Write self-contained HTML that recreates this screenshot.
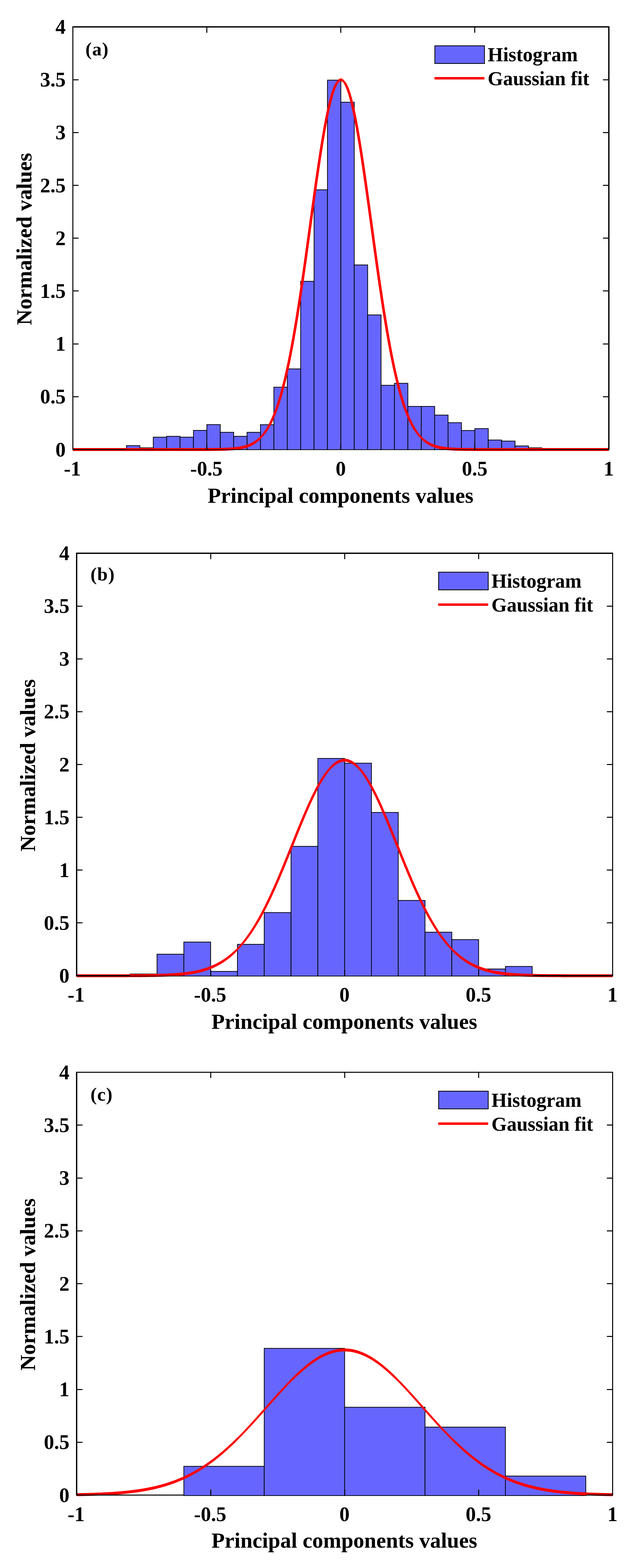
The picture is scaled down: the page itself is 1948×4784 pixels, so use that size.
<!DOCTYPE html>
<html lang="en">
<head>
<meta charset="utf-8">
<title>Histograms of principal components values with Gaussian fit</title>
<style>
html,body{margin:0;padding:0;background:#fff;}
body{width:1948px;height:4784px;overflow:hidden;}
svg{display:block;font-family:'Liberation Serif','Times New Roman',serif;font-weight:bold;fill:#000;}
</style>
</head>
<body>
<svg width="1948" height="4784" viewBox="0 0 1948 4784">
<rect width="1948" height="4784" fill="#fff" stroke="none"/>
<g class="panel" id="panel-a">
<g fill="#6666ff" stroke="#000" stroke-width="2.2" stroke-linejoin="miter">
<rect x="386.15" y="1359.57" width="40.91" height="12.43"/>
<rect x="427.06" y="1366.34" width="40.91" height="5.66"/>
<rect x="467.97" y="1333.78" width="40.91" height="38.22"/>
<rect x="508.89" y="1331.2" width="40.91" height="40.8"/>
<rect x="549.8" y="1333.78" width="40.91" height="38.22"/>
<rect x="590.71" y="1313.15" width="40.91" height="58.85"/>
<rect x="631.62" y="1295.42" width="40.91" height="76.58"/>
<rect x="672.54" y="1318.95" width="40.91" height="53.05"/>
<rect x="713.45" y="1331.2" width="40.91" height="40.8"/>
<rect x="754.36" y="1318.95" width="40.91" height="53.05"/>
<rect x="795.27" y="1295.74" width="40.91" height="76.26"/>
<rect x="836.19" y="1181.3" width="40.91" height="190.7"/>
<rect x="877.1" y="1125.53" width="40.91" height="246.47"/>
<rect x="918.01" y="858.28" width="40.91" height="513.72"/>
<rect x="958.93" y="579.1" width="40.91" height="792.9"/>
<rect x="999.84" y="244.48" width="40.91" height="1127.52"/>
<rect x="1040.75" y="311.85" width="40.91" height="1060.15"/>
<rect x="1081.66" y="808.31" width="40.91" height="563.69"/>
<rect x="1122.58" y="960.79" width="40.91" height="411.21"/>
<rect x="1163.49" y="1175.5" width="40.91" height="196.5"/>
<rect x="1204.4" y="1169.37" width="40.91" height="202.63"/>
<rect x="1245.31" y="1239.97" width="40.91" height="132.03"/>
<rect x="1286.23" y="1239.97" width="40.91" height="132.03"/>
<rect x="1327.14" y="1266.41" width="40.91" height="105.59"/>
<rect x="1368.05" y="1289.62" width="40.91" height="82.38"/>
<rect x="1408.96" y="1313.47" width="40.91" height="58.53"/>
<rect x="1449.88" y="1307.67" width="40.91" height="64.33"/>
<rect x="1490.79" y="1342.49" width="40.91" height="29.51"/>
<rect x="1531.7" y="1345.71" width="40.91" height="26.29"/>
<rect x="1572.61" y="1360.54" width="40.91" height="11.46"/>
<rect x="1613.52" y="1366.34" width="40.91" height="5.66"/>
</g>
<path fill="#ff0000" stroke="none" fill-rule="nonzero" d="M222.5 1367L225.77 1367L229.05 1367L232.32 1367L235.59 1367L238.87 1367L242.14 1367L245.41 1367L248.68 1367L251.96 1367L255.23 1367L258.5 1367L261.78 1367L265.05 1367L268.32 1367L271.6 1367L274.87 1367L278.14 1367L281.41 1367L284.69 1367L287.96 1367L291.23 1367L294.51 1367L297.78 1367L301.05 1367L304.32 1367L307.6 1367L310.87 1367L314.14 1367L317.42 1367L320.69 1367L323.96 1367L327.24 1367L330.51 1367L333.78 1367L337.06 1367L340.33 1367L343.6 1367L346.87 1367L350.15 1367L353.42 1367L356.69 1367L359.97 1367L363.24 1367L366.51 1367L369.78 1367L373.06 1367L376.33 1367L379.6 1367L382.88 1367L386.15 1367L389.42 1367L392.7 1367L395.97 1367L399.24 1367L402.51 1367L405.79 1367L409.06 1367L412.33 1367L415.61 1367L418.88 1367L422.15 1367L425.43 1367L428.7 1367L431.97 1367L435.25 1367L438.52 1367L441.79 1367L445.06 1367L448.34 1367L451.61 1367L454.88 1367L458.16 1367L461.43 1367L464.7 1367L467.98 1367L471.25 1367L474.52 1367L477.79 1367L481.07 1367L484.34 1367L487.61 1367L490.89 1367L494.16 1367L497.43 1367L500.71 1367L503.98 1367L507.25 1367L510.52 1367L513.8 1367L517.07 1367L520.34 1367L523.62 1367L526.89 1367L530.16 1367L533.43 1367L536.71 1367L539.98 1367L543.25 1367L546.53 1367L549.8 1367L553.07 1367L556.35 1367L559.62 1367L562.89 1367L566.16 1367L569.44 1367L572.71 1367L575.98 1367L579.26 1366.99L582.53 1366.99L585.8 1366.99L589.08 1366.99L592.35 1366.99L595.62 1366.99L598.89 1366.98L602.17 1366.98L605.44 1366.98L608.71 1366.97L611.99 1366.97L615.26 1366.96L618.53 1366.96L621.81 1366.95L625.08 1366.94L628.35 1366.93L631.62 1366.92L634.9 1366.91L638.17 1366.89L641.44 1366.88L644.72 1366.86L647.99 1366.83L651.26 1366.81L654.54 1366.78L657.81 1366.74L661.08 1366.7L664.36 1366.66L667.63 1366.61L670.9 1366.55L674.17 1366.48L677.45 1366.4L680.72 1366.32L683.99 1366.22L687.27 1366.11L690.54 1365.98L693.81 1365.84L697.09 1365.68L700.36 1365.5L703.63 1365.3L706.9 1365.07L710.18 1364.81L713.45 1364.53L716.72 1364.21L720 1363.85L723.27 1363.45L726.54 1363.01L729.82 1362.51L733.09 1361.96L736.36 1361.35L739.63 1360.67L742.91 1359.92L746.18 1359.09L749.45 1358.17L752.73 1357.16L756 1356.05L759.27 1354.83L762.55 1353.48L765.82 1352.01L769.09 1350.39L772.36 1348.63L775.64 1346.7L778.91 1344.6L782.18 1342.31L785.46 1339.81L788.73 1337.11L792 1334.17L791.27 1335.49L794.55 1332.05L797.82 1328.34L801.09 1324.33L804.37 1320.01L807.64 1315.37L810.91 1310.38L814.19 1305.03L817.46 1299.31L820.73 1293.18L824 1286.64L827.28 1279.66L830.55 1272.24L833.82 1264.34L837.1 1255.96L840.37 1247.07L843.64 1237.66L846.92 1227.72L850.19 1217.23L853.46 1206.18L856.74 1194.55L860.01 1182.34L863.28 1169.53L866.55 1156.12L869.83 1142.1L873.1 1127.46L876.37 1112.21L879.65 1096.34L882.92 1079.86L886.19 1062.77L889.46 1045.08L892.74 1026.79L896.01 1007.93L899.28 988.51L902.56 968.54L905.83 948.05L909.1 927.06L912.38 905.6L915.65 883.71L918.92 861.41L922.19 838.74L925.47 815.75L928.74 792.47L932.01 768.96L935.29 745.26L938.56 721.43L941.83 697.51L945.11 673.57L948.38 649.67L951.65 625.86L954.93 602.2L958.2 578.77L961.47 555.62L964.74 532.83L968.02 510.45L971.29 488.56L974.56 467.22L977.84 446.5L981.11 426.46L984.38 407.17L987.65 388.69L990.93 371.08L994.2 354.4L997.47 338.71L1000.75 324.07L1004.02 310.51L1007.29 298.09L1010.57 286.86L1013.84 276.85L1017.11 268.1L1020.38 260.65L1023.66 254.51L1026.93 249.71L1034.2 241.77L1037.48 239.7L1040.75 239.01L1044.02 239.7L1047.3 241.77L1054.57 249.71L1057.84 254.51L1061.12 260.65L1064.39 268.1L1067.66 276.85L1070.93 286.86L1074.21 298.09L1077.48 310.51L1080.75 324.07L1084.03 338.71L1087.3 354.4L1090.57 371.08L1093.85 388.69L1097.12 407.17L1100.39 426.46L1103.66 446.5L1106.94 467.22L1110.21 488.56L1113.48 510.45L1116.76 532.83L1120.03 555.62L1123.3 578.77L1126.58 602.2L1129.85 625.86L1133.12 649.67L1136.39 673.57L1139.67 697.51L1142.94 721.43L1146.21 745.26L1149.49 768.96L1152.76 792.47L1156.03 815.75L1159.3 838.74L1162.58 861.41L1165.85 883.71L1169.12 905.6L1172.4 927.06L1175.67 948.05L1178.94 968.54L1182.22 988.51L1185.49 1007.93L1188.76 1026.79L1192.03 1045.08L1195.31 1062.77L1198.58 1079.86L1201.85 1096.34L1205.13 1112.21L1208.4 1127.46L1211.67 1142.1L1214.95 1156.12L1218.22 1169.53L1221.49 1182.34L1224.76 1194.55L1228.04 1206.18L1231.31 1217.23L1234.58 1227.72L1237.86 1237.66L1241.13 1247.07L1244.4 1255.96L1247.68 1264.34L1250.95 1272.24L1254.22 1279.66L1257.5 1286.64L1260.77 1293.18L1264.04 1299.31L1267.31 1305.03L1270.59 1310.38L1273.86 1315.37L1277.13 1320.01L1280.41 1324.33L1283.68 1328.34L1286.95 1332.05L1290.23 1335.49L1289.5 1334.17L1292.77 1337.11L1296.04 1339.81L1299.32 1342.31L1302.59 1344.6L1305.86 1346.7L1309.14 1348.63L1312.41 1350.39L1315.68 1352.01L1318.96 1353.48L1322.23 1354.83L1325.5 1356.05L1328.77 1357.16L1332.05 1358.17L1335.32 1359.09L1338.59 1359.92L1341.87 1360.67L1345.14 1361.35L1348.41 1361.96L1351.68 1362.51L1354.96 1363.01L1358.23 1363.45L1361.5 1363.85L1364.78 1364.21L1368.05 1364.53L1371.32 1364.81L1374.6 1365.07L1377.87 1365.3L1381.14 1365.5L1384.41 1365.68L1387.69 1365.84L1390.96 1365.98L1394.23 1366.11L1397.51 1366.22L1400.78 1366.32L1404.05 1366.4L1407.33 1366.48L1410.6 1366.55L1413.87 1366.61L1417.14 1366.66L1420.42 1366.7L1423.69 1366.74L1426.96 1366.78L1430.24 1366.81L1433.51 1366.83L1436.78 1366.86L1440.06 1366.88L1443.33 1366.89L1446.6 1366.91L1449.88 1366.92L1453.15 1366.93L1456.42 1366.94L1459.69 1366.95L1462.97 1366.96L1466.24 1366.96L1469.51 1366.97L1472.79 1366.97L1476.06 1366.98L1479.33 1366.98L1482.61 1366.98L1485.88 1366.99L1489.15 1366.99L1492.42 1366.99L1495.7 1366.99L1498.97 1366.99L1502.24 1366.99L1505.52 1367L1508.79 1367L1512.06 1367L1515.34 1367L1518.61 1367L1521.88 1367L1525.15 1367L1528.43 1367L1531.7 1367L1534.97 1367L1538.25 1367L1541.52 1367L1544.79 1367L1548.07 1367L1551.34 1367L1554.61 1367L1557.88 1367L1561.16 1367L1564.43 1367L1567.7 1367L1570.98 1367L1574.25 1367L1577.52 1367L1580.79 1367L1584.07 1367L1587.34 1367L1590.61 1367L1593.89 1367L1597.16 1367L1600.43 1367L1603.71 1367L1606.98 1367L1610.25 1367L1613.52 1367L1616.8 1367L1620.07 1367L1623.34 1367L1626.62 1367L1629.89 1367L1633.16 1367L1636.44 1367L1639.71 1367L1642.98 1367L1646.25 1367L1649.53 1367L1652.8 1367L1656.07 1367L1659.35 1367L1662.62 1367L1665.89 1367L1669.17 1367L1672.44 1367L1675.71 1367L1678.99 1367L1682.26 1367L1685.53 1367L1688.8 1367L1692.08 1367L1695.35 1367L1698.62 1367L1701.9 1367L1705.17 1367L1708.44 1367L1711.72 1367L1714.99 1367L1718.26 1367L1721.53 1367L1724.81 1367L1728.08 1367L1731.35 1367L1734.63 1367L1737.9 1367L1741.17 1367L1744.45 1367L1747.72 1367L1750.99 1367L1754.26 1367L1757.54 1367L1760.81 1367L1764.08 1367L1767.36 1367L1770.63 1367L1773.9 1367L1777.17 1367L1780.45 1367L1783.72 1367L1786.99 1367L1790.27 1367L1793.54 1367L1796.81 1367L1800.09 1367L1803.36 1367L1806.63 1367L1809.9 1367L1813.18 1367L1816.45 1367L1819.72 1367L1823 1367L1826.27 1367L1829.54 1367L1832.82 1367L1836.09 1367L1839.36 1367L1842.63 1367L1845.91 1367L1849.18 1367L1852.45 1367L1855.73 1367L1859 1367L1859 1376L1855.73 1376L1852.45 1376L1849.18 1376L1845.91 1376L1842.63 1376L1839.36 1376L1836.09 1376L1832.82 1376L1829.54 1376L1826.27 1376L1823 1376L1819.72 1376L1816.45 1376L1813.18 1376L1809.9 1376L1806.63 1376L1803.36 1376L1800.09 1376L1796.81 1376L1793.54 1376L1790.27 1376L1786.99 1376L1783.72 1376L1780.45 1376L1777.17 1376L1773.9 1376L1770.63 1376L1767.36 1376L1764.08 1376L1760.81 1376L1757.54 1376L1754.26 1376L1750.99 1376L1747.72 1376L1744.45 1376L1741.17 1376L1737.9 1376L1734.63 1376L1731.35 1376L1728.08 1376L1724.81 1376L1721.53 1376L1718.26 1376L1714.99 1376L1711.72 1376L1708.44 1376L1705.17 1376L1701.9 1376L1698.62 1376L1695.35 1376L1692.08 1376L1688.8 1376L1685.53 1376L1682.26 1376L1678.99 1376L1675.71 1376L1672.44 1376L1669.17 1376L1665.89 1376L1662.62 1376L1659.35 1376L1656.07 1376L1652.8 1376L1649.53 1376L1646.25 1376L1642.98 1376L1639.71 1376L1636.44 1376L1633.16 1376L1629.89 1376L1626.62 1376L1623.34 1376L1620.07 1376L1616.8 1376L1613.52 1376L1610.25 1376L1606.98 1376L1603.71 1376L1600.43 1376L1597.16 1376L1593.89 1376L1590.61 1376L1587.34 1376L1584.07 1376L1580.79 1376L1577.52 1376L1574.25 1376L1570.98 1376L1567.7 1376L1564.43 1376L1561.16 1376L1557.88 1376L1554.61 1376L1551.34 1376L1548.07 1376L1544.79 1376L1541.52 1376L1538.25 1376L1534.97 1376L1531.7 1376L1528.43 1376L1525.15 1376L1521.88 1376L1518.61 1376L1515.34 1376L1512.06 1376L1508.79 1376L1505.52 1376L1502.24 1375.99L1498.97 1375.99L1495.7 1375.99L1492.42 1375.99L1489.15 1375.99L1485.88 1375.99L1482.61 1375.98L1479.33 1375.98L1476.06 1375.98L1472.79 1375.97L1469.51 1375.97L1466.24 1375.96L1462.97 1375.96L1459.69 1375.95L1456.42 1375.94L1453.15 1375.93L1449.88 1375.92L1446.6 1375.91L1443.33 1375.89L1440.06 1375.88L1436.78 1375.86L1433.51 1375.83L1430.24 1375.81L1426.96 1375.78L1423.69 1375.74L1420.42 1375.7L1417.14 1375.66L1413.87 1375.61L1410.6 1375.55L1407.33 1375.48L1404.05 1375.4L1400.78 1375.32L1397.51 1375.22L1394.23 1375.11L1390.96 1374.98L1387.69 1374.84L1384.41 1374.68L1381.14 1374.5L1377.87 1374.3L1374.6 1374.07L1371.32 1373.81L1368.05 1373.53L1364.78 1373.21L1361.5 1372.85L1358.23 1372.45L1354.96 1372.01L1351.68 1371.51L1348.41 1370.96L1345.14 1370.35L1341.87 1369.67L1338.59 1368.92L1335.32 1368.09L1332.05 1367.17L1328.77 1366.16L1325.5 1365.05L1322.23 1363.83L1318.96 1362.48L1315.68 1361.01L1312.41 1359.39L1309.14 1357.63L1305.86 1355.7L1302.59 1353.6L1299.32 1351.31L1296.04 1348.81L1292.77 1346.11L1289.5 1343.17L1282.23 1335.49L1278.95 1332.05L1275.68 1328.34L1272.41 1324.33L1269.13 1320.01L1265.86 1315.37L1262.59 1310.38L1259.31 1305.03L1256.04 1299.31L1252.77 1293.18L1249.5 1286.64L1246.22 1279.66L1242.95 1272.24L1239.68 1264.34L1236.4 1255.96L1233.13 1247.07L1229.86 1237.66L1226.58 1227.72L1223.31 1217.23L1220.04 1206.18L1216.76 1194.55L1213.49 1182.34L1210.22 1169.53L1206.95 1156.12L1203.67 1142.1L1200.4 1127.46L1197.13 1112.21L1193.85 1096.34L1190.58 1079.86L1187.31 1062.77L1184.03 1045.08L1180.76 1026.79L1177.49 1007.93L1174.22 988.51L1170.94 968.54L1167.67 948.05L1164.4 927.06L1161.12 905.6L1157.85 883.71L1154.58 861.41L1151.3 838.74L1148.03 815.75L1144.76 792.47L1141.49 768.96L1138.21 745.26L1134.94 721.43L1131.67 697.51L1128.39 673.57L1125.12 649.67L1121.85 625.86L1118.58 602.2L1115.3 578.77L1112.03 555.62L1108.76 532.83L1105.48 510.45L1102.21 488.56L1098.94 467.22L1095.66 446.5L1092.39 426.46L1089.12 407.17L1085.85 388.69L1082.57 371.08L1079.3 354.4L1076.03 338.71L1072.75 324.07L1069.48 310.51L1066.21 298.09L1062.93 286.86L1059.66 276.85L1056.39 268.1L1053.12 260.65L1049.84 254.51L1046.57 249.71L1047.3 250.77L1044.02 248.7L1040.75 248.01L1037.48 248.7L1034.2 250.77L1034.93 249.71L1031.66 254.51L1028.38 260.65L1025.11 268.1L1021.84 276.85L1018.57 286.86L1015.29 298.09L1012.02 310.51L1008.75 324.07L1005.47 338.71L1002.2 354.4L998.93 371.08L995.65 388.69L992.38 407.17L989.11 426.46L985.84 446.5L982.56 467.22L979.29 488.56L976.02 510.45L972.74 532.83L969.47 555.62L966.2 578.77L962.93 602.2L959.65 625.86L956.38 649.67L953.11 673.57L949.83 697.51L946.56 721.43L943.29 745.26L940.01 768.96L936.74 792.47L933.47 815.75L930.19 838.74L926.92 861.41L923.65 883.71L920.38 905.6L917.1 927.06L913.83 948.05L910.56 968.54L907.28 988.51L904.01 1007.93L900.74 1026.79L897.46 1045.08L894.19 1062.77L890.92 1079.86L887.65 1096.34L884.37 1112.21L881.1 1127.46L877.83 1142.1L874.55 1156.12L871.28 1169.53L868.01 1182.34L864.74 1194.55L861.46 1206.18L858.19 1217.23L854.92 1227.72L851.64 1237.66L848.37 1247.07L845.1 1255.96L841.82 1264.34L838.55 1272.24L835.28 1279.66L832 1286.64L828.73 1293.18L825.46 1299.31L822.19 1305.03L818.91 1310.38L815.64 1315.37L812.37 1320.01L809.09 1324.33L805.82 1328.34L802.55 1332.05L799.27 1335.49L792 1343.17L788.73 1346.11L785.46 1348.81L782.18 1351.31L778.91 1353.6L775.64 1355.7L772.36 1357.63L769.09 1359.39L765.82 1361.01L762.55 1362.48L759.27 1363.83L756 1365.05L752.73 1366.16L749.45 1367.17L746.18 1368.09L742.91 1368.92L739.63 1369.67L736.36 1370.35L733.09 1370.96L729.82 1371.51L726.54 1372.01L723.27 1372.45L720 1372.85L716.72 1373.21L713.45 1373.53L710.18 1373.81L706.9 1374.07L703.63 1374.3L700.36 1374.5L697.09 1374.68L693.81 1374.84L690.54 1374.98L687.27 1375.11L683.99 1375.22L680.72 1375.32L677.45 1375.4L674.17 1375.48L670.9 1375.55L667.63 1375.61L664.36 1375.66L661.08 1375.7L657.81 1375.74L654.54 1375.78L651.26 1375.81L647.99 1375.83L644.72 1375.86L641.44 1375.88L638.17 1375.89L634.9 1375.91L631.62 1375.92L628.35 1375.93L625.08 1375.94L621.81 1375.95L618.53 1375.96L615.26 1375.96L611.99 1375.97L608.71 1375.97L605.44 1375.98L602.17 1375.98L598.89 1375.98L595.62 1375.99L592.35 1375.99L589.08 1375.99L585.8 1375.99L582.53 1375.99L579.26 1375.99L575.98 1376L572.71 1376L569.44 1376L566.16 1376L562.89 1376L559.62 1376L556.35 1376L553.07 1376L549.8 1376L546.53 1376L543.25 1376L539.98 1376L536.71 1376L533.43 1376L530.16 1376L526.89 1376L523.62 1376L520.34 1376L517.07 1376L513.8 1376L510.52 1376L507.25 1376L503.98 1376L500.71 1376L497.43 1376L494.16 1376L490.89 1376L487.61 1376L484.34 1376L481.07 1376L477.79 1376L474.52 1376L471.25 1376L467.98 1376L464.7 1376L461.43 1376L458.16 1376L454.88 1376L451.61 1376L448.34 1376L445.06 1376L441.79 1376L438.52 1376L435.25 1376L431.97 1376L428.7 1376L425.43 1376L422.15 1376L418.88 1376L415.61 1376L412.33 1376L409.06 1376L405.79 1376L402.51 1376L399.24 1376L395.97 1376L392.7 1376L389.42 1376L386.15 1376L382.88 1376L379.6 1376L376.33 1376L373.06 1376L369.78 1376L366.51 1376L363.24 1376L359.97 1376L356.69 1376L353.42 1376L350.15 1376L346.87 1376L343.6 1376L340.33 1376L337.06 1376L333.78 1376L330.51 1376L327.24 1376L323.96 1376L320.69 1376L317.42 1376L314.14 1376L310.87 1376L307.6 1376L304.32 1376L301.05 1376L297.78 1376L294.51 1376L291.23 1376L287.96 1376L284.69 1376L281.41 1376L278.14 1376L274.87 1376L271.6 1376L268.32 1376L265.05 1376L261.78 1376L258.5 1376L255.23 1376L251.96 1376L248.68 1376L245.41 1376L242.14 1376L238.87 1376L235.59 1376L232.32 1376L229.05 1376L225.77 1376L222.5 1376 Z"/>
<path fill="#000" shape-rendering="crispEdges" d="M221 80h3v1293h-3zM1857 80h4v1293h-4zM221 80h1640v4h-1640zM221 1370h164v3h-164zM385 1371h1270v2h-1270zM1655 1370h206v3h-206zM630 1355h3v18h-3zM630 84h3v16h-3zM1039 1355h3v18h-3zM1039 84h3v16h-3zM1448 1355h3v18h-3zM1448 84h3v16h-3zM224 1209h16v3h-16zM1841 1209h16v3h-16zM224 1048h16v3h-16zM1841 1048h16v3h-16zM224 886h16v3h-16zM1841 886h16v3h-16zM224 725h16v3h-16zM1841 725h16v3h-16zM224 564h16v3h-16zM1841 564h16v3h-16zM224 403h16v3h-16zM1841 403h16v3h-16zM224 242h16v3h-16zM1841 242h16v3h-16z"/>
<g font-size="62.5">
<text x="221" y="1450.5" text-anchor="middle">-1</text>
<text x="630.12" y="1450.5" text-anchor="middle">-0.5</text>
<text x="1040.25" y="1450.5" text-anchor="middle">0</text>
<text x="1449.38" y="1450.5" text-anchor="middle">0.5</text>
<text x="1858.5" y="1450.5" text-anchor="middle">1</text>
<text x="200.5" y="1392.5" text-anchor="end">0</text>
<text x="200.5" y="1231.31" text-anchor="end">0.5</text>
<text x="200.5" y="1070.12" text-anchor="end">1</text>
<text x="200.5" y="908.94" text-anchor="end">1.5</text>
<text x="200.5" y="747.75" text-anchor="end">2</text>
<text x="200.5" y="586.56" text-anchor="end">2.5</text>
<text x="200.5" y="425.38" text-anchor="end">3</text>
<text x="200.5" y="264.19" text-anchor="end">3.5</text>
<text x="200.5" y="103" text-anchor="end">4</text>
</g>
<text font-size="66.4" x="1039.75" y="1533.5" text-anchor="middle">Principal components values</text>
<text font-size="66.4" transform="translate(95.5 729.25) rotate(-90)" text-anchor="middle">Normalized values</text>
<text font-size="57.6" x="260.8" y="168.5" letter-spacing="1.5">(a)</text>
<rect x="1327.7" y="139.7" width="151.5" height="54" fill="#6666ff" stroke="#000" stroke-width="2.4"/>
<path d="M1326.5 238.7h152.5" stroke="#ff0000" stroke-width="7.6" fill="none"/>
<text font-size="60.4" x="1489" y="187">Histogram</text>
<text font-size="60.4" x="1489" y="260">Gaussian fit</text>
</g>
<g class="panel" id="panel-b">
<g fill="#6666ff" stroke="#000" stroke-width="2.2" stroke-linejoin="miter">
<rect x="397.65" y="2971.68" width="81.82" height="6.32"/>
<rect x="479.47" y="2911.26" width="81.83" height="66.74"/>
<rect x="561.3" y="2874.2" width="81.82" height="103.8"/>
<rect x="643.12" y="2963.79" width="81.83" height="14.21"/>
<rect x="724.95" y="2881.13" width="81.82" height="96.87"/>
<rect x="806.77" y="2784.29" width="81.82" height="193.71"/>
<rect x="888.6" y="2582.24" width="81.83" height="395.76"/>
<rect x="970.43" y="2313.97" width="81.82" height="664.03"/>
<rect x="1052.25" y="2328.47" width="81.83" height="649.53"/>
<rect x="1134.08" y="2478.8" width="81.83" height="499.2"/>
<rect x="1215.9" y="2747.24" width="81.82" height="230.76"/>
<rect x="1297.73" y="2844.07" width="81.82" height="133.93"/>
<rect x="1379.55" y="2866.79" width="81.82" height="111.21"/>
<rect x="1461.38" y="2956.38" width="81.83" height="21.62"/>
<rect x="1543.2" y="2948.64" width="81.83" height="29.36"/>
</g>
<path fill="#ff0000" stroke="none" fill-rule="nonzero" d="M234 2972.5L237.27 2972.5L240.55 2972.5L243.82 2972.5L247.09 2972.5L250.37 2972.5L253.64 2972.5L256.91 2972.5L260.18 2972.5L263.46 2972.5L266.73 2972.5L270 2972.5L273.28 2972.5L276.55 2972.49L279.82 2972.49L283.1 2972.49L286.37 2972.49L289.64 2972.49L292.91 2972.49L296.19 2972.49L299.46 2972.49L302.73 2972.49L306.01 2972.49L309.28 2972.49L312.55 2972.49L315.82 2972.48L319.1 2972.48L322.37 2972.48L325.64 2972.48L328.92 2972.48L332.19 2972.47L335.46 2972.47L338.74 2972.47L342.01 2972.47L345.28 2972.46L348.56 2972.46L351.83 2972.45L355.1 2972.45L358.37 2972.45L361.65 2972.44L364.92 2972.44L368.19 2972.43L371.47 2972.42L374.74 2972.42L378.01 2972.41L381.28 2972.4L384.56 2972.39L387.83 2972.38L391.1 2972.37L394.38 2972.36L397.65 2972.35L400.92 2972.33L404.2 2972.32L407.47 2972.3L410.74 2972.29L414.01 2972.27L417.29 2972.25L420.56 2972.23L423.83 2972.21L427.11 2972.18L430.38 2972.16L433.65 2972.13L436.93 2972.1L440.2 2972.06L443.47 2972.03L446.75 2971.99L450.02 2971.95L453.29 2971.91L456.56 2971.86L459.84 2971.81L463.11 2971.75L466.38 2971.7L469.66 2971.63L472.93 2971.57L476.2 2971.5L479.48 2971.42L482.75 2971.34L486.02 2971.25L489.29 2971.16L492.57 2971.06L495.84 2970.95L499.11 2970.83L502.39 2970.71L505.66 2970.58L508.93 2970.44L512.21 2970.3L515.48 2970.14L518.75 2969.97L522.02 2969.79L525.3 2969.61L528.57 2969.4L531.84 2969.19L535.12 2968.96L538.39 2968.72L541.66 2968.47L544.93 2968.2L548.21 2967.91L551.48 2967.6L554.75 2967.28L558.03 2966.94L561.3 2966.58L564.57 2966.19L567.85 2965.79L571.12 2965.36L574.39 2964.91L577.66 2964.43L580.94 2963.93L584.21 2963.4L587.48 2962.84L590.76 2962.25L594.03 2961.63L597.3 2960.98L600.58 2960.29L603.85 2959.57L607.12 2958.8L610.39 2958.01L613.67 2957.17L616.94 2956.28L620.21 2955.36L623.49 2954.39L626.76 2953.37L630.03 2952.31L633.31 2951.19L636.58 2950.02L639.85 2948.8L643.12 2947.52L646.4 2946.19L649.67 2944.79L652.94 2943.33L656.22 2941.81L659.49 2940.22L662.76 2938.57L666.04 2936.84L669.31 2935.04L672.58 2933.17L675.86 2931.22L679.13 2929.19L682.4 2927.09L685.67 2924.9L688.95 2922.62L692.22 2920.26L695.49 2917.81L698.77 2915.27L702.04 2912.63L705.31 2909.91L708.59 2907.08L711.86 2904.15L715.13 2901.13L718.4 2898L717.68 2899.26L720.95 2895.92L724.22 2892.48L727.5 2888.92L730.77 2885.25L734.04 2881.46L737.32 2877.57L740.59 2873.56L743.86 2869.43L747.13 2865.18L750.41 2860.81L753.68 2856.33L756.95 2851.72L760.23 2846.99L763.5 2842.14L766.77 2837.17L770.05 2832.07L773.32 2826.85L776.59 2821.51L779.86 2816.05L783.14 2810.46L786.41 2804.75L789.68 2798.93L792.96 2792.98L796.23 2786.91L799.5 2780.72L802.77 2774.42L806.05 2768L809.32 2761.47L812.59 2754.83L815.87 2748.08L819.14 2741.22L822.41 2734.26L825.69 2727.2L828.96 2720.04L832.23 2712.79L835.5 2705.44L838.78 2698.01L842.05 2690.49L845.32 2682.9L848.6 2675.23L851.87 2667.49L855.14 2659.68L858.42 2651.82L861.69 2643.89L864.96 2635.92L868.24 2627.9L871.51 2619.85L874.78 2611.76L878.05 2603.64L881.33 2595.5L884.6 2587.35L887.87 2579.2L891.15 2571.04L894.42 2562.88L897.69 2554.74L900.96 2546.62L904.24 2538.53L907.51 2530.47L910.78 2522.46L914.06 2514.49L917.33 2506.58L920.6 2498.74L923.88 2490.97L927.15 2483.28L930.42 2475.68L933.69 2468.17L936.97 2460.77L940.24 2453.48L943.51 2446.31L946.79 2439.26L950.06 2432.35L953.33 2425.58L956.61 2418.97L959.88 2412.5L963.15 2406.21L966.43 2400.08L969.7 2394.13L972.97 2388.37L976.24 2382.8L979.52 2377.43L982.79 2372.26L986.06 2367.3L989.34 2362.56L992.61 2358.05L995.88 2353.76L999.15 2349.7L1002.43 2345.88L1005.7 2342.3L1012.97 2334.47L1016.25 2331.39L1019.52 2328.57L1022.79 2326L1026.07 2323.7L1029.34 2321.66L1032.61 2319.89L1035.88 2318.38L1039.16 2317.15L1042.43 2316.19L1045.7 2315.5L1048.98 2315.09L1052.25 2314.95L1055.52 2315.09L1058.8 2315.5L1062.07 2316.19L1065.34 2317.15L1068.62 2318.38L1071.89 2319.89L1075.16 2321.66L1078.43 2323.7L1081.71 2326L1084.98 2328.57L1088.25 2331.39L1091.53 2334.47L1098.8 2342.3L1102.07 2345.88L1105.35 2349.7L1108.62 2353.76L1111.89 2358.05L1115.16 2362.56L1118.44 2367.3L1121.71 2372.26L1124.98 2377.43L1128.26 2382.8L1131.53 2388.37L1134.8 2394.13L1138.08 2400.08L1141.35 2406.21L1144.62 2412.5L1147.89 2418.97L1151.17 2425.58L1154.44 2432.35L1157.71 2439.26L1160.99 2446.31L1164.26 2453.48L1167.53 2460.77L1170.8 2468.17L1174.08 2475.68L1177.35 2483.28L1180.62 2490.97L1183.9 2498.74L1187.17 2506.58L1190.44 2514.49L1193.72 2522.46L1196.99 2530.47L1200.26 2538.53L1203.53 2546.62L1206.81 2554.74L1210.08 2562.88L1213.35 2571.04L1216.63 2579.2L1219.9 2587.35L1223.17 2595.5L1226.45 2603.64L1229.72 2611.76L1232.99 2619.85L1236.26 2627.9L1239.54 2635.92L1242.81 2643.89L1246.08 2651.82L1249.36 2659.68L1252.63 2667.49L1255.9 2675.23L1259.18 2682.9L1262.45 2690.49L1265.72 2698.01L1269 2705.44L1272.27 2712.79L1275.54 2720.04L1278.81 2727.2L1282.09 2734.26L1285.36 2741.22L1288.63 2748.08L1291.91 2754.83L1295.18 2761.47L1298.45 2768L1301.73 2774.42L1305 2780.72L1308.27 2786.91L1311.54 2792.98L1314.82 2798.93L1318.09 2804.75L1321.36 2810.46L1324.64 2816.05L1327.91 2821.51L1331.18 2826.85L1334.46 2832.07L1337.73 2837.17L1341 2842.14L1344.27 2846.99L1347.55 2851.72L1350.82 2856.33L1354.09 2860.81L1357.37 2865.18L1360.64 2869.43L1363.91 2873.56L1367.18 2877.57L1370.46 2881.46L1373.73 2885.25L1377 2888.92L1380.28 2892.48L1383.55 2895.92L1386.82 2899.26L1386.1 2898L1389.37 2901.13L1392.64 2904.15L1395.91 2907.08L1399.19 2909.91L1402.46 2912.63L1405.73 2915.27L1409.01 2917.81L1412.28 2920.26L1415.55 2922.62L1418.83 2924.9L1422.1 2927.09L1425.37 2929.19L1428.64 2931.22L1431.92 2933.17L1435.19 2935.04L1438.46 2936.84L1441.74 2938.57L1445.01 2940.22L1448.28 2941.81L1451.56 2943.33L1454.83 2944.79L1458.1 2946.19L1461.38 2947.52L1464.65 2948.8L1467.92 2950.02L1471.19 2951.19L1474.47 2952.31L1477.74 2953.37L1481.01 2954.39L1484.29 2955.36L1487.56 2956.28L1490.83 2957.17L1494.11 2958.01L1497.38 2958.8L1500.65 2959.57L1503.92 2960.29L1507.2 2960.98L1510.47 2961.63L1513.74 2962.25L1517.02 2962.84L1520.29 2963.4L1523.56 2963.93L1526.84 2964.43L1530.11 2964.91L1533.38 2965.36L1536.65 2965.79L1539.93 2966.19L1543.2 2966.58L1546.47 2966.94L1549.75 2967.28L1553.02 2967.6L1556.29 2967.91L1559.57 2968.2L1562.84 2968.47L1566.11 2968.72L1569.38 2968.96L1572.66 2969.19L1575.93 2969.4L1579.2 2969.61L1582.48 2969.79L1585.75 2969.97L1589.02 2970.14L1592.29 2970.3L1595.57 2970.44L1598.84 2970.58L1602.11 2970.71L1605.39 2970.83L1608.66 2970.95L1611.93 2971.06L1615.21 2971.16L1618.48 2971.25L1621.75 2971.34L1625.02 2971.42L1628.3 2971.5L1631.57 2971.57L1634.84 2971.63L1638.12 2971.7L1641.39 2971.75L1644.66 2971.81L1647.94 2971.86L1651.21 2971.91L1654.48 2971.95L1657.75 2971.99L1661.03 2972.03L1664.3 2972.06L1667.57 2972.1L1670.85 2972.13L1674.12 2972.16L1677.39 2972.18L1680.67 2972.21L1683.94 2972.23L1687.21 2972.25L1690.49 2972.27L1693.76 2972.29L1697.03 2972.3L1700.3 2972.32L1703.58 2972.33L1706.85 2972.35L1710.12 2972.36L1713.4 2972.37L1716.67 2972.38L1719.94 2972.39L1723.22 2972.4L1726.49 2972.41L1729.76 2972.42L1733.03 2972.42L1736.31 2972.43L1739.58 2972.44L1742.85 2972.44L1746.13 2972.45L1749.4 2972.45L1752.67 2972.45L1755.95 2972.46L1759.22 2972.46L1762.49 2972.47L1765.76 2972.47L1769.04 2972.47L1772.31 2972.47L1775.58 2972.48L1778.86 2972.48L1782.13 2972.48L1785.4 2972.48L1788.67 2972.48L1791.95 2972.49L1795.22 2972.49L1798.49 2972.49L1801.77 2972.49L1805.04 2972.49L1808.31 2972.49L1811.59 2972.49L1814.86 2972.49L1818.13 2972.49L1821.4 2972.49L1824.68 2972.49L1827.95 2972.49L1831.22 2972.5L1834.5 2972.5L1837.77 2972.5L1841.04 2972.5L1844.32 2972.5L1847.59 2972.5L1850.86 2972.5L1854.13 2972.5L1857.41 2972.5L1860.68 2972.5L1863.95 2972.5L1867.23 2972.5L1870.5 2972.5L1870.5 2981.5L1867.23 2981.5L1863.95 2981.5L1860.68 2981.5L1857.41 2981.5L1854.13 2981.5L1850.86 2981.5L1847.59 2981.5L1844.32 2981.5L1841.04 2981.5L1837.77 2981.5L1834.5 2981.5L1831.22 2981.5L1827.95 2981.49L1824.68 2981.49L1821.4 2981.49L1818.13 2981.49L1814.86 2981.49L1811.59 2981.49L1808.31 2981.49L1805.04 2981.49L1801.77 2981.49L1798.49 2981.49L1795.22 2981.49L1791.95 2981.49L1788.67 2981.48L1785.4 2981.48L1782.13 2981.48L1778.86 2981.48L1775.58 2981.48L1772.31 2981.47L1769.04 2981.47L1765.76 2981.47L1762.49 2981.47L1759.22 2981.46L1755.95 2981.46L1752.67 2981.45L1749.4 2981.45L1746.13 2981.45L1742.85 2981.44L1739.58 2981.44L1736.31 2981.43L1733.03 2981.42L1729.76 2981.42L1726.49 2981.41L1723.22 2981.4L1719.94 2981.39L1716.67 2981.38L1713.4 2981.37L1710.12 2981.36L1706.85 2981.35L1703.58 2981.33L1700.3 2981.32L1697.03 2981.3L1693.76 2981.29L1690.49 2981.27L1687.21 2981.25L1683.94 2981.23L1680.67 2981.21L1677.39 2981.18L1674.12 2981.16L1670.85 2981.13L1667.57 2981.1L1664.3 2981.06L1661.03 2981.03L1657.75 2980.99L1654.48 2980.95L1651.21 2980.91L1647.94 2980.86L1644.66 2980.81L1641.39 2980.75L1638.12 2980.7L1634.84 2980.63L1631.57 2980.57L1628.3 2980.5L1625.02 2980.42L1621.75 2980.34L1618.48 2980.25L1615.21 2980.16L1611.93 2980.06L1608.66 2979.95L1605.39 2979.83L1602.11 2979.71L1598.84 2979.58L1595.57 2979.44L1592.29 2979.3L1589.02 2979.14L1585.75 2978.97L1582.48 2978.79L1579.2 2978.61L1575.93 2978.4L1572.66 2978.19L1569.38 2977.96L1566.11 2977.72L1562.84 2977.47L1559.57 2977.2L1556.29 2976.91L1553.02 2976.6L1549.75 2976.28L1546.47 2975.94L1543.2 2975.58L1539.93 2975.19L1536.65 2974.79L1533.38 2974.36L1530.11 2973.91L1526.84 2973.43L1523.56 2972.93L1520.29 2972.4L1517.02 2971.84L1513.74 2971.25L1510.47 2970.63L1507.2 2969.98L1503.92 2969.29L1500.65 2968.57L1497.38 2967.8L1494.11 2967.01L1490.83 2966.17L1487.56 2965.28L1484.29 2964.36L1481.01 2963.39L1477.74 2962.37L1474.47 2961.31L1471.19 2960.19L1467.92 2959.02L1464.65 2957.8L1461.38 2956.52L1458.1 2955.19L1454.83 2953.79L1451.56 2952.33L1448.28 2950.81L1445.01 2949.22L1441.74 2947.57L1438.46 2945.84L1435.19 2944.04L1431.92 2942.17L1428.64 2940.22L1425.37 2938.19L1422.1 2936.09L1418.83 2933.9L1415.55 2931.62L1412.28 2929.26L1409.01 2926.81L1405.73 2924.27L1402.46 2921.63L1399.19 2918.91L1395.91 2916.08L1392.64 2913.15L1389.37 2910.13L1386.1 2907L1378.82 2899.26L1375.55 2895.92L1372.28 2892.48L1369 2888.92L1365.73 2885.25L1362.46 2881.46L1359.18 2877.57L1355.91 2873.56L1352.64 2869.43L1349.37 2865.18L1346.09 2860.81L1342.82 2856.33L1339.55 2851.72L1336.27 2846.99L1333 2842.14L1329.73 2837.17L1326.46 2832.07L1323.18 2826.85L1319.91 2821.51L1316.64 2816.05L1313.36 2810.46L1310.09 2804.75L1306.82 2798.93L1303.54 2792.98L1300.27 2786.91L1297 2780.72L1293.73 2774.42L1290.45 2768L1287.18 2761.47L1283.91 2754.83L1280.63 2748.08L1277.36 2741.22L1274.09 2734.26L1270.81 2727.2L1267.54 2720.04L1264.27 2712.79L1261 2705.44L1257.72 2698.01L1254.45 2690.49L1251.18 2682.9L1247.9 2675.23L1244.63 2667.49L1241.36 2659.68L1238.08 2651.82L1234.81 2643.89L1231.54 2635.92L1228.26 2627.9L1224.99 2619.85L1221.72 2611.76L1218.45 2603.64L1215.17 2595.5L1211.9 2587.35L1208.63 2579.2L1205.35 2571.04L1202.08 2562.88L1198.81 2554.74L1195.53 2546.62L1192.26 2538.53L1188.99 2530.47L1185.72 2522.46L1182.44 2514.49L1179.17 2506.58L1175.9 2498.74L1172.62 2490.97L1169.35 2483.28L1166.08 2475.68L1162.8 2468.17L1159.53 2460.77L1156.26 2453.48L1152.99 2446.31L1149.71 2439.26L1146.44 2432.35L1143.17 2425.58L1139.89 2418.97L1136.62 2412.5L1133.35 2406.21L1130.08 2400.08L1126.8 2394.13L1123.53 2388.37L1120.26 2382.8L1116.98 2377.43L1113.71 2372.26L1110.44 2367.3L1107.16 2362.56L1103.89 2358.05L1100.62 2353.76L1097.35 2349.7L1094.07 2345.88L1090.8 2342.3L1091.53 2343.47L1088.25 2340.39L1084.98 2337.57L1081.71 2335L1078.43 2332.7L1075.16 2330.66L1071.89 2328.89L1068.62 2327.38L1065.34 2326.15L1062.07 2325.19L1058.8 2324.5L1055.52 2324.09L1052.25 2323.95L1048.98 2324.09L1045.7 2324.5L1042.43 2325.19L1039.16 2326.15L1035.88 2327.38L1032.61 2328.89L1029.34 2330.66L1026.07 2332.7L1022.79 2335L1019.52 2337.57L1016.25 2340.39L1012.97 2343.47L1013.7 2342.3L1010.43 2345.88L1007.15 2349.7L1003.88 2353.76L1000.61 2358.05L997.34 2362.56L994.06 2367.3L990.79 2372.26L987.52 2377.43L984.24 2382.8L980.97 2388.37L977.7 2394.13L974.43 2400.08L971.15 2406.21L967.88 2412.5L964.61 2418.97L961.33 2425.58L958.06 2432.35L954.79 2439.26L951.51 2446.31L948.24 2453.48L944.97 2460.77L941.69 2468.17L938.42 2475.68L935.15 2483.28L931.88 2490.97L928.6 2498.74L925.33 2506.58L922.06 2514.49L918.78 2522.46L915.51 2530.47L912.24 2538.53L908.96 2546.62L905.69 2554.74L902.42 2562.88L899.15 2571.04L895.87 2579.2L892.6 2587.35L889.33 2595.5L886.05 2603.64L882.78 2611.76L879.51 2619.85L876.24 2627.9L872.96 2635.92L869.69 2643.89L866.42 2651.82L863.14 2659.68L859.87 2667.49L856.6 2675.23L853.32 2682.9L850.05 2690.49L846.78 2698.01L843.5 2705.44L840.23 2712.79L836.96 2720.04L833.69 2727.2L830.41 2734.26L827.14 2741.22L823.87 2748.08L820.59 2754.83L817.32 2761.47L814.05 2768L810.77 2774.42L807.5 2780.72L804.23 2786.91L800.96 2792.98L797.68 2798.93L794.41 2804.75L791.14 2810.46L787.86 2816.05L784.59 2821.51L781.32 2826.85L778.05 2832.07L774.77 2837.17L771.5 2842.14L768.23 2846.99L764.95 2851.72L761.68 2856.33L758.41 2860.81L755.13 2865.18L751.86 2869.43L748.59 2873.56L745.32 2877.57L742.04 2881.46L738.77 2885.25L735.5 2888.92L732.22 2892.48L728.95 2895.92L725.68 2899.26L718.4 2907L715.13 2910.13L711.86 2913.15L708.59 2916.08L705.31 2918.91L702.04 2921.63L698.77 2924.27L695.49 2926.81L692.22 2929.26L688.95 2931.62L685.67 2933.9L682.4 2936.09L679.13 2938.19L675.86 2940.22L672.58 2942.17L669.31 2944.04L666.04 2945.84L662.76 2947.57L659.49 2949.22L656.22 2950.81L652.94 2952.33L649.67 2953.79L646.4 2955.19L643.12 2956.52L639.85 2957.8L636.58 2959.02L633.31 2960.19L630.03 2961.31L626.76 2962.37L623.49 2963.39L620.21 2964.36L616.94 2965.28L613.67 2966.17L610.39 2967.01L607.12 2967.8L603.85 2968.57L600.58 2969.29L597.3 2969.98L594.03 2970.63L590.76 2971.25L587.48 2971.84L584.21 2972.4L580.94 2972.93L577.66 2973.43L574.39 2973.91L571.12 2974.36L567.85 2974.79L564.57 2975.19L561.3 2975.58L558.03 2975.94L554.75 2976.28L551.48 2976.6L548.21 2976.91L544.93 2977.2L541.66 2977.47L538.39 2977.72L535.12 2977.96L531.84 2978.19L528.57 2978.4L525.3 2978.61L522.02 2978.79L518.75 2978.97L515.48 2979.14L512.21 2979.3L508.93 2979.44L505.66 2979.58L502.39 2979.71L499.11 2979.83L495.84 2979.95L492.57 2980.06L489.29 2980.16L486.02 2980.25L482.75 2980.34L479.48 2980.42L476.2 2980.5L472.93 2980.57L469.66 2980.63L466.38 2980.7L463.11 2980.75L459.84 2980.81L456.56 2980.86L453.29 2980.91L450.02 2980.95L446.75 2980.99L443.47 2981.03L440.2 2981.06L436.93 2981.1L433.65 2981.13L430.38 2981.16L427.11 2981.18L423.83 2981.21L420.56 2981.23L417.29 2981.25L414.01 2981.27L410.74 2981.29L407.47 2981.3L404.2 2981.32L400.92 2981.33L397.65 2981.35L394.38 2981.36L391.1 2981.37L387.83 2981.38L384.56 2981.39L381.28 2981.4L378.01 2981.41L374.74 2981.42L371.47 2981.42L368.19 2981.43L364.92 2981.44L361.65 2981.44L358.37 2981.45L355.1 2981.45L351.83 2981.45L348.56 2981.46L345.28 2981.46L342.01 2981.47L338.74 2981.47L335.46 2981.47L332.19 2981.47L328.92 2981.48L325.64 2981.48L322.37 2981.48L319.1 2981.48L315.82 2981.48L312.55 2981.49L309.28 2981.49L306.01 2981.49L302.73 2981.49L299.46 2981.49L296.19 2981.49L292.91 2981.49L289.64 2981.49L286.37 2981.49L283.1 2981.49L279.82 2981.49L276.55 2981.49L273.28 2981.5L270 2981.5L266.73 2981.5L263.46 2981.5L260.18 2981.5L256.91 2981.5L253.64 2981.5L250.37 2981.5L247.09 2981.5L243.82 2981.5L240.55 2981.5L237.27 2981.5L234 2981.5 Z"/>
<path fill="#000" shape-rendering="crispEdges" d="M232 1686h4v1293h-4zM1869 1686h3v1293h-3zM232 1686h1640v4h-1640zM232 2975h165v4h-165zM397 2977h1229v2h-1229zM1626 2975h246v4h-246zM642 2960h3v19h-3zM642 1690h3v16h-3zM1051 2960h3v19h-3zM1051 1690h3v16h-3zM1460 2960h3v19h-3zM1460 1690h3v16h-3zM236 2814h16v3h-16zM1853 2814h16v3h-16zM236 2653h16v3h-16zM1853 2653h16v3h-16zM236 2492h16v3h-16zM1853 2492h16v3h-16zM236 2331h16v3h-16zM1853 2331h16v3h-16zM236 2170h16v3h-16zM1853 2170h16v3h-16zM236 2009h16v3h-16zM1853 2009h16v3h-16zM236 1848h16v3h-16zM1853 1848h16v3h-16z"/>
<g font-size="62.5">
<text x="232.5" y="3056" text-anchor="middle">-1</text>
<text x="641.62" y="3056" text-anchor="middle">-0.5</text>
<text x="1051.75" y="3056" text-anchor="middle">0</text>
<text x="1460.88" y="3056" text-anchor="middle">0.5</text>
<text x="1870" y="3056" text-anchor="middle">1</text>
<text x="212" y="2998" text-anchor="end">0</text>
<text x="212" y="2836.88" text-anchor="end">0.5</text>
<text x="212" y="2675.75" text-anchor="end">1</text>
<text x="212" y="2514.62" text-anchor="end">1.5</text>
<text x="212" y="2353.5" text-anchor="end">2</text>
<text x="212" y="2192.38" text-anchor="end">2.5</text>
<text x="212" y="2031.25" text-anchor="end">3</text>
<text x="212" y="1870.12" text-anchor="end">3.5</text>
<text x="212" y="1709" text-anchor="end">4</text>
</g>
<text font-size="66.4" x="1051.25" y="3138.5" text-anchor="middle">Principal components values</text>
<text font-size="66.4" transform="translate(107 2335) rotate(-90)" text-anchor="middle">Normalized values</text>
<text font-size="57.6" x="276.2" y="1771.2" letter-spacing="1.5">(b)</text>
<rect x="1339.2" y="1745.7" width="151.5" height="54" fill="#6666ff" stroke="#000" stroke-width="2.4"/>
<path d="M1338 1844.7h152.5" stroke="#ff0000" stroke-width="7.6" fill="none"/>
<text font-size="60.4" x="1500.5" y="1793">Histogram</text>
<text font-size="60.4" x="1500.5" y="1866">Gaussian fit</text>
</g>
<g class="panel" id="panel-c">
<g fill="#6666ff" stroke="#000" stroke-width="2.2" stroke-linejoin="miter">
<rect x="561.3" y="4473.78" width="245.48" height="89.22"/>
<rect x="806.77" y="4113.87" width="245.48" height="449.13"/>
<rect x="1052.25" y="4293.5" width="245.48" height="269.5"/>
<rect x="1297.72" y="4354.13" width="245.47" height="208.87"/>
<rect x="1543.2" y="4503.45" width="245.47" height="59.55"/>
</g>
<path fill="#ff0000" stroke="none" fill-rule="nonzero" d="M234 4555.81L237.27 4555.75L240.55 4555.69L243.82 4555.63L247.09 4555.57L250.37 4555.5L253.64 4555.43L256.91 4555.35L260.18 4555.28L263.46 4555.19L266.73 4555.11L270 4555.02L273.28 4554.93L276.55 4554.84L279.82 4554.74L283.1 4554.63L286.37 4554.53L289.64 4554.41L292.91 4554.3L296.19 4554.18L299.46 4554.05L302.73 4553.92L306.01 4553.78L309.28 4553.64L312.55 4553.49L315.82 4553.34L319.1 4553.18L322.37 4553.02L325.64 4552.85L328.92 4552.67L332.19 4552.48L335.46 4552.29L338.74 4552.09L342.01 4551.89L345.28 4551.67L348.56 4551.45L351.83 4551.22L355.1 4550.98L358.37 4550.73L361.65 4550.48L364.92 4550.21L368.19 4549.94L371.47 4549.65L374.74 4549.36L378.01 4549.05L381.28 4548.74L384.56 4548.41L387.83 4548.07L391.1 4547.72L394.38 4547.36L397.65 4546.99L400.92 4546.6L404.2 4546.21L407.47 4545.79L410.74 4545.37L414.01 4544.93L417.29 4544.48L420.56 4544.01L423.83 4543.53L427.11 4543.03L430.38 4542.52L433.65 4541.99L436.93 4541.44L440.2 4540.88L443.47 4540.3L446.75 4539.7L450.02 4539.09L453.29 4538.45L456.56 4537.8L459.84 4537.13L463.11 4536.44L466.38 4535.72L469.66 4534.99L472.93 4534.24L476.2 4533.47L479.48 4532.67L482.75 4531.85L486.02 4531.01L489.29 4530.15L492.57 4529.26L495.84 4528.35L499.11 4527.42L502.39 4526.46L505.66 4525.47L508.93 4524.46L512.21 4523.42L515.48 4522.36L518.75 4521.27L522.02 4520.15L525.3 4519.01L528.57 4517.84L531.84 4516.64L535.12 4515.4L538.39 4514.14L541.66 4512.86L544.93 4511.54L548.21 4510.18L551.48 4508.8L554.75 4507.39L558.03 4505.95L561.3 4504.47L564.57 4502.96L567.85 4501.42L571.12 4499.84L574.39 4498.23L577.66 4496.59L580.94 4494.91L584.21 4493.2L587.48 4491.46L590.76 4489.68L594.03 4487.86L597.3 4486.01L600.58 4484.12L603.85 4482.2L607.12 4480.24L610.39 4478.24L613.67 4476.21L616.94 4474.14L620.21 4472.03L623.49 4469.89L626.76 4467.71L630.03 4465.49L633.31 4463.24L636.58 4460.94L639.85 4458.61L643.12 4456.25L646.4 4453.84L649.67 4451.4L652.94 4448.92L656.22 4446.4L659.49 4443.85L662.76 4441.26L666.04 4438.63L669.31 4435.96L672.58 4433.26L675.86 4430.52L679.13 4427.75L682.4 4424.94L685.67 4422.1L688.95 4419.22L692.22 4416.3L695.49 4413.35L698.77 4410.37L702.04 4407.35L705.31 4404.3L708.59 4401.22L711.86 4398.1L715.13 4394.96L718.4 4391.78L721.68 4388.57L724.95 4385.33L724.22 4386.57L727.5 4383.27L730.77 4379.95L734.04 4376.6L737.32 4373.22L740.59 4369.82L743.86 4366.39L747.13 4362.94L750.41 4359.47L753.68 4355.98L756.95 4352.46L760.23 4348.93L763.5 4345.38L766.77 4341.8L770.05 4338.22L773.32 4334.61L776.59 4331L779.86 4327.36L783.14 4323.72L786.41 4320.07L789.68 4316.4L792.96 4312.73L796.23 4309.05L799.5 4305.36L802.77 4301.67L806.05 4297.98L809.32 4294.29L812.59 4290.59L815.87 4286.89L819.14 4283.2L822.41 4279.51L825.69 4275.83L828.96 4272.15L832.23 4268.48L835.5 4264.82L838.78 4261.18L842.05 4257.54L845.32 4253.92L848.6 4250.32L851.87 4246.73L855.14 4243.16L858.42 4239.61L861.69 4236.09L864.96 4232.58L868.24 4229.11L871.51 4225.66L874.78 4222.24L878.05 4218.84L881.33 4215.48L884.6 4212.16L887.87 4208.87L895.15 4201.11L898.42 4197.89L901.69 4194.72L904.96 4191.58L908.24 4188.49L911.51 4185.44L914.78 4182.43L918.06 4179.47L921.33 4176.57L924.6 4173.71L927.88 4170.9L931.15 4168.15L934.42 4165.45L937.69 4162.81L940.97 4160.22L944.24 4157.7L947.51 4155.23L950.79 4152.83L954.06 4150.48L957.33 4148.21L960.61 4145.99L963.88 4143.85L967.15 4141.77L970.43 4139.75L973.7 4137.81L976.97 4135.94L980.24 4134.14L983.52 4132.42L986.79 4130.77L990.06 4129.19L993.34 4127.69L996.61 4126.26L999.88 4124.91L1003.15 4123.64L1006.43 4122.45L1009.7 4121.34L1012.97 4120.3L1016.25 4119.35L1019.52 4118.48L1022.79 4117.69L1026.07 4116.98L1029.34 4116.35L1032.61 4115.81L1035.88 4115.35L1039.16 4114.97L1042.43 4114.68L1045.7 4114.47L1048.98 4114.35L1052.25 4114.3L1055.52 4114.35L1058.8 4114.47L1062.07 4114.68L1065.34 4114.97L1068.62 4115.35L1071.89 4115.81L1075.16 4116.35L1078.43 4116.98L1081.71 4117.69L1084.98 4118.48L1088.25 4119.35L1091.53 4120.3L1094.8 4121.34L1098.07 4122.45L1101.35 4123.64L1104.62 4124.91L1107.89 4126.26L1111.16 4127.69L1114.44 4129.19L1117.71 4130.77L1120.98 4132.42L1124.26 4134.14L1127.53 4135.94L1130.8 4137.81L1134.08 4139.75L1137.35 4141.77L1140.62 4143.85L1143.89 4145.99L1147.17 4148.21L1150.44 4150.48L1153.71 4152.83L1156.99 4155.23L1160.26 4157.7L1163.53 4160.22L1166.8 4162.81L1170.08 4165.45L1173.35 4168.15L1176.62 4170.9L1179.9 4173.71L1183.17 4176.57L1186.44 4179.47L1189.72 4182.43L1192.99 4185.44L1196.26 4188.49L1199.53 4191.58L1202.81 4194.72L1206.08 4197.89L1209.35 4201.11L1216.63 4208.87L1219.9 4212.16L1223.17 4215.48L1226.45 4218.84L1229.72 4222.24L1232.99 4225.66L1236.26 4229.11L1239.54 4232.58L1242.81 4236.09L1246.08 4239.61L1249.36 4243.16L1252.63 4246.73L1255.9 4250.32L1259.18 4253.92L1262.45 4257.54L1265.72 4261.18L1269 4264.82L1272.27 4268.48L1275.54 4272.15L1278.81 4275.83L1282.09 4279.51L1285.36 4283.2L1288.63 4286.89L1291.91 4290.59L1295.18 4294.29L1298.45 4297.98L1301.73 4301.67L1305 4305.36L1308.27 4309.05L1311.54 4312.73L1314.82 4316.4L1318.09 4320.07L1321.36 4323.72L1324.64 4327.36L1327.91 4331L1331.18 4334.61L1334.46 4338.22L1337.73 4341.8L1341 4345.38L1344.27 4348.93L1347.55 4352.46L1350.82 4355.98L1354.09 4359.47L1357.37 4362.94L1360.64 4366.39L1363.91 4369.82L1367.18 4373.22L1370.46 4376.6L1373.73 4379.95L1377 4383.27L1380.28 4386.57L1379.55 4385.33L1382.82 4388.57L1386.1 4391.78L1389.37 4394.96L1392.64 4398.1L1395.91 4401.22L1399.19 4404.3L1402.46 4407.35L1405.73 4410.37L1409.01 4413.35L1412.28 4416.3L1415.55 4419.22L1418.83 4422.1L1422.1 4424.94L1425.37 4427.75L1428.64 4430.52L1431.92 4433.26L1435.19 4435.96L1438.46 4438.63L1441.74 4441.26L1445.01 4443.85L1448.28 4446.4L1451.56 4448.92L1454.83 4451.4L1458.1 4453.84L1461.38 4456.25L1464.65 4458.61L1467.92 4460.94L1471.19 4463.24L1474.47 4465.49L1477.74 4467.71L1481.01 4469.89L1484.29 4472.03L1487.56 4474.14L1490.83 4476.21L1494.11 4478.24L1497.38 4480.24L1500.65 4482.2L1503.92 4484.12L1507.2 4486.01L1510.47 4487.86L1513.74 4489.68L1517.02 4491.46L1520.29 4493.2L1523.56 4494.91L1526.84 4496.59L1530.11 4498.23L1533.38 4499.84L1536.65 4501.42L1539.93 4502.96L1543.2 4504.47L1546.47 4505.95L1549.75 4507.39L1553.02 4508.8L1556.29 4510.18L1559.57 4511.54L1562.84 4512.86L1566.11 4514.14L1569.38 4515.4L1572.66 4516.64L1575.93 4517.84L1579.2 4519.01L1582.48 4520.15L1585.75 4521.27L1589.02 4522.36L1592.29 4523.42L1595.57 4524.46L1598.84 4525.47L1602.11 4526.46L1605.39 4527.42L1608.66 4528.35L1611.93 4529.26L1615.21 4530.15L1618.48 4531.01L1621.75 4531.85L1625.02 4532.67L1628.3 4533.47L1631.57 4534.24L1634.84 4534.99L1638.12 4535.72L1641.39 4536.44L1644.66 4537.13L1647.94 4537.8L1651.21 4538.45L1654.48 4539.09L1657.75 4539.7L1661.03 4540.3L1664.3 4540.88L1667.57 4541.44L1670.85 4541.99L1674.12 4542.52L1677.39 4543.03L1680.67 4543.53L1683.94 4544.01L1687.21 4544.48L1690.49 4544.93L1693.76 4545.37L1697.03 4545.79L1700.3 4546.21L1703.58 4546.6L1706.85 4546.99L1710.12 4547.36L1713.4 4547.72L1716.67 4548.07L1719.94 4548.41L1723.22 4548.74L1726.49 4549.05L1729.76 4549.36L1733.03 4549.65L1736.31 4549.94L1739.58 4550.21L1742.85 4550.48L1746.13 4550.73L1749.4 4550.98L1752.67 4551.22L1755.95 4551.45L1759.22 4551.67L1762.49 4551.89L1765.76 4552.09L1769.04 4552.29L1772.31 4552.48L1775.58 4552.67L1778.86 4552.85L1782.13 4553.02L1785.4 4553.18L1788.67 4553.34L1791.95 4553.49L1795.22 4553.64L1798.49 4553.78L1801.77 4553.92L1805.04 4554.05L1808.31 4554.18L1811.59 4554.3L1814.86 4554.41L1818.13 4554.53L1821.4 4554.63L1824.68 4554.74L1827.95 4554.84L1831.22 4554.93L1834.5 4555.02L1837.77 4555.11L1841.04 4555.19L1844.32 4555.28L1847.59 4555.35L1850.86 4555.43L1854.13 4555.5L1857.41 4555.57L1860.68 4555.63L1863.95 4555.69L1867.23 4555.75L1870.5 4555.81L1870.5 4564.81L1867.23 4564.75L1863.95 4564.69L1860.68 4564.63L1857.41 4564.57L1854.13 4564.5L1850.86 4564.43L1847.59 4564.35L1844.32 4564.28L1841.04 4564.19L1837.77 4564.11L1834.5 4564.02L1831.22 4563.93L1827.95 4563.84L1824.68 4563.74L1821.4 4563.63L1818.13 4563.53L1814.86 4563.41L1811.59 4563.3L1808.31 4563.18L1805.04 4563.05L1801.77 4562.92L1798.49 4562.78L1795.22 4562.64L1791.95 4562.49L1788.67 4562.34L1785.4 4562.18L1782.13 4562.02L1778.86 4561.85L1775.58 4561.67L1772.31 4561.48L1769.04 4561.29L1765.76 4561.09L1762.49 4560.89L1759.22 4560.67L1755.95 4560.45L1752.67 4560.22L1749.4 4559.98L1746.13 4559.73L1742.85 4559.48L1739.58 4559.21L1736.31 4558.94L1733.03 4558.65L1729.76 4558.36L1726.49 4558.05L1723.22 4557.74L1719.94 4557.41L1716.67 4557.07L1713.4 4556.72L1710.12 4556.36L1706.85 4555.99L1703.58 4555.6L1700.3 4555.21L1697.03 4554.79L1693.76 4554.37L1690.49 4553.93L1687.21 4553.48L1683.94 4553.01L1680.67 4552.53L1677.39 4552.03L1674.12 4551.52L1670.85 4550.99L1667.57 4550.44L1664.3 4549.88L1661.03 4549.3L1657.75 4548.7L1654.48 4548.09L1651.21 4547.45L1647.94 4546.8L1644.66 4546.13L1641.39 4545.44L1638.12 4544.72L1634.84 4543.99L1631.57 4543.24L1628.3 4542.47L1625.02 4541.67L1621.75 4540.85L1618.48 4540.01L1615.21 4539.15L1611.93 4538.26L1608.66 4537.35L1605.39 4536.42L1602.11 4535.46L1598.84 4534.47L1595.57 4533.46L1592.29 4532.42L1589.02 4531.36L1585.75 4530.27L1582.48 4529.15L1579.2 4528.01L1575.93 4526.84L1572.66 4525.64L1569.38 4524.4L1566.11 4523.14L1562.84 4521.86L1559.57 4520.54L1556.29 4519.18L1553.02 4517.8L1549.75 4516.39L1546.47 4514.95L1543.2 4513.47L1539.93 4511.96L1536.65 4510.42L1533.38 4508.84L1530.11 4507.23L1526.84 4505.59L1523.56 4503.91L1520.29 4502.2L1517.02 4500.46L1513.74 4498.68L1510.47 4496.86L1507.2 4495.01L1503.92 4493.12L1500.65 4491.2L1497.38 4489.24L1494.11 4487.24L1490.83 4485.21L1487.56 4483.14L1484.29 4481.03L1481.01 4478.89L1477.74 4476.71L1474.47 4474.49L1471.19 4472.24L1467.92 4469.94L1464.65 4467.61L1461.38 4465.25L1458.1 4462.84L1454.83 4460.4L1451.56 4457.92L1448.28 4455.4L1445.01 4452.85L1441.74 4450.26L1438.46 4447.63L1435.19 4444.96L1431.92 4442.26L1428.64 4439.52L1425.37 4436.75L1422.1 4433.94L1418.83 4431.1L1415.55 4428.22L1412.28 4425.3L1409.01 4422.35L1405.73 4419.37L1402.46 4416.35L1399.19 4413.3L1395.91 4410.22L1392.64 4407.1L1389.37 4403.96L1386.1 4400.78L1382.82 4397.57L1379.55 4394.33L1372.28 4386.57L1369 4383.27L1365.73 4379.95L1362.46 4376.6L1359.18 4373.22L1355.91 4369.82L1352.64 4366.39L1349.37 4362.94L1346.09 4359.47L1342.82 4355.98L1339.55 4352.46L1336.27 4348.93L1333 4345.38L1329.73 4341.8L1326.46 4338.22L1323.18 4334.61L1319.91 4331L1316.64 4327.36L1313.36 4323.72L1310.09 4320.07L1306.82 4316.4L1303.54 4312.73L1300.27 4309.05L1297 4305.36L1293.73 4301.67L1290.45 4297.98L1287.18 4294.29L1283.91 4290.59L1280.63 4286.89L1277.36 4283.2L1274.09 4279.51L1270.81 4275.83L1267.54 4272.15L1264.27 4268.48L1261 4264.82L1257.72 4261.18L1254.45 4257.54L1251.18 4253.92L1247.9 4250.32L1244.63 4246.73L1241.36 4243.16L1238.08 4239.61L1234.81 4236.09L1231.54 4232.58L1228.26 4229.11L1224.99 4225.66L1221.72 4222.24L1218.45 4218.84L1215.17 4215.48L1211.9 4212.16L1208.63 4208.87L1209.35 4210.11L1206.08 4206.89L1202.81 4203.72L1199.53 4200.58L1196.26 4197.49L1192.99 4194.44L1189.72 4191.43L1186.44 4188.47L1183.17 4185.57L1179.9 4182.71L1176.62 4179.9L1173.35 4177.15L1170.08 4174.45L1166.8 4171.81L1163.53 4169.22L1160.26 4166.7L1156.99 4164.23L1153.71 4161.83L1150.44 4159.48L1147.17 4157.21L1143.89 4154.99L1140.62 4152.85L1137.35 4150.77L1134.08 4148.75L1130.8 4146.81L1127.53 4144.94L1124.26 4143.14L1120.98 4141.42L1117.71 4139.77L1114.44 4138.19L1111.16 4136.69L1107.89 4135.26L1104.62 4133.91L1101.35 4132.64L1098.07 4131.45L1094.8 4130.34L1091.53 4129.3L1088.25 4128.35L1084.98 4127.48L1081.71 4126.69L1078.43 4125.98L1075.16 4125.35L1071.89 4124.81L1068.62 4124.35L1065.34 4123.97L1062.07 4123.68L1058.8 4123.47L1055.52 4123.35L1052.25 4123.3L1048.98 4123.35L1045.7 4123.47L1042.43 4123.68L1039.16 4123.97L1035.88 4124.35L1032.61 4124.81L1029.34 4125.35L1026.07 4125.98L1022.79 4126.69L1019.52 4127.48L1016.25 4128.35L1012.97 4129.3L1009.7 4130.34L1006.43 4131.45L1003.15 4132.64L999.88 4133.91L996.61 4135.26L993.34 4136.69L990.06 4138.19L986.79 4139.77L983.52 4141.42L980.24 4143.14L976.97 4144.94L973.7 4146.81L970.43 4148.75L967.15 4150.77L963.88 4152.85L960.61 4154.99L957.33 4157.21L954.06 4159.48L950.79 4161.83L947.51 4164.23L944.24 4166.7L940.97 4169.22L937.69 4171.81L934.42 4174.45L931.15 4177.15L927.88 4179.9L924.6 4182.71L921.33 4185.57L918.06 4188.47L914.78 4191.43L911.51 4194.44L908.24 4197.49L904.96 4200.58L901.69 4203.72L898.42 4206.89L895.15 4210.11L895.87 4208.87L892.6 4212.16L889.33 4215.48L886.05 4218.84L882.78 4222.24L879.51 4225.66L876.24 4229.11L872.96 4232.58L869.69 4236.09L866.42 4239.61L863.14 4243.16L859.87 4246.73L856.6 4250.32L853.32 4253.92L850.05 4257.54L846.78 4261.18L843.5 4264.82L840.23 4268.48L836.96 4272.15L833.69 4275.83L830.41 4279.51L827.14 4283.2L823.87 4286.89L820.59 4290.59L817.32 4294.29L814.05 4297.98L810.77 4301.67L807.5 4305.36L804.23 4309.05L800.96 4312.73L797.68 4316.4L794.41 4320.07L791.14 4323.72L787.86 4327.36L784.59 4331L781.32 4334.61L778.05 4338.22L774.77 4341.8L771.5 4345.38L768.23 4348.93L764.95 4352.46L761.68 4355.98L758.41 4359.47L755.13 4362.94L751.86 4366.39L748.59 4369.82L745.32 4373.22L742.04 4376.6L738.77 4379.95L735.5 4383.27L732.22 4386.57L724.95 4394.33L721.68 4397.57L718.4 4400.78L715.13 4403.96L711.86 4407.1L708.59 4410.22L705.31 4413.3L702.04 4416.35L698.77 4419.37L695.49 4422.35L692.22 4425.3L688.95 4428.22L685.67 4431.1L682.4 4433.94L679.13 4436.75L675.86 4439.52L672.58 4442.26L669.31 4444.96L666.04 4447.63L662.76 4450.26L659.49 4452.85L656.22 4455.4L652.94 4457.92L649.67 4460.4L646.4 4462.84L643.12 4465.25L639.85 4467.61L636.58 4469.94L633.31 4472.24L630.03 4474.49L626.76 4476.71L623.49 4478.89L620.21 4481.03L616.94 4483.14L613.67 4485.21L610.39 4487.24L607.12 4489.24L603.85 4491.2L600.58 4493.12L597.3 4495.01L594.03 4496.86L590.76 4498.68L587.48 4500.46L584.21 4502.2L580.94 4503.91L577.66 4505.59L574.39 4507.23L571.12 4508.84L567.85 4510.42L564.57 4511.96L561.3 4513.47L558.03 4514.95L554.75 4516.39L551.48 4517.8L548.21 4519.18L544.93 4520.54L541.66 4521.86L538.39 4523.14L535.12 4524.4L531.84 4525.64L528.57 4526.84L525.3 4528.01L522.02 4529.15L518.75 4530.27L515.48 4531.36L512.21 4532.42L508.93 4533.46L505.66 4534.47L502.39 4535.46L499.11 4536.42L495.84 4537.35L492.57 4538.26L489.29 4539.15L486.02 4540.01L482.75 4540.85L479.48 4541.67L476.2 4542.47L472.93 4543.24L469.66 4543.99L466.38 4544.72L463.11 4545.44L459.84 4546.13L456.56 4546.8L453.29 4547.45L450.02 4548.09L446.75 4548.7L443.47 4549.3L440.2 4549.88L436.93 4550.44L433.65 4550.99L430.38 4551.52L427.11 4552.03L423.83 4552.53L420.56 4553.01L417.29 4553.48L414.01 4553.93L410.74 4554.37L407.47 4554.79L404.2 4555.21L400.92 4555.6L397.65 4555.99L394.38 4556.36L391.1 4556.72L387.83 4557.07L384.56 4557.41L381.28 4557.74L378.01 4558.05L374.74 4558.36L371.47 4558.65L368.19 4558.94L364.92 4559.21L361.65 4559.48L358.37 4559.73L355.1 4559.98L351.83 4560.22L348.56 4560.45L345.28 4560.67L342.01 4560.89L338.74 4561.09L335.46 4561.29L332.19 4561.48L328.92 4561.67L325.64 4561.85L322.37 4562.02L319.1 4562.18L315.82 4562.34L312.55 4562.49L309.28 4562.64L306.01 4562.78L302.73 4562.92L299.46 4563.05L296.19 4563.18L292.91 4563.3L289.64 4563.41L286.37 4563.53L283.1 4563.63L279.82 4563.74L276.55 4563.84L273.28 4563.93L270 4564.02L266.73 4564.11L263.46 4564.19L260.18 4564.28L256.91 4564.35L253.64 4564.43L250.37 4564.5L247.09 4564.57L243.82 4564.63L240.55 4564.69L237.27 4564.75L234 4564.81 Z"/>
<path fill="#000" shape-rendering="crispEdges" d="M232 3270h4v1293h-4zM1869 3270h3v1293h-3zM232 3270h1640v3h-1640zM232 4560h328v3h-328zM560 4562h1230v2h-1230zM1790 4560h82v3h-82zM642 4545h3v19h-3zM642 3273h3v16h-3zM1051 4545h3v19h-3zM1051 3273h3v16h-3zM1460 4545h3v19h-3zM1460 3273h3v16h-3zM236 4399h16v3h-16zM1853 4399h16v3h-16zM236 4238h16v3h-16zM1853 4238h16v3h-16zM236 4076h16v3h-16zM1853 4076h16v3h-16zM236 3915h16v3h-16zM1853 3915h16v3h-16zM236 3754h16v3h-16zM1853 3754h16v3h-16zM236 3593h16v3h-16zM1853 3593h16v3h-16zM236 3431h16v3h-16zM1853 3431h16v3h-16z"/>
<g font-size="62.5">
<text x="232.5" y="4640.5" text-anchor="middle">-1</text>
<text x="641.62" y="4640.5" text-anchor="middle">-0.5</text>
<text x="1051.75" y="4640.5" text-anchor="middle">0</text>
<text x="1460.88" y="4640.5" text-anchor="middle">0.5</text>
<text x="1870" y="4640.5" text-anchor="middle">1</text>
<text x="212" y="4582.5" text-anchor="end">0</text>
<text x="212" y="4421.25" text-anchor="end">0.5</text>
<text x="212" y="4260" text-anchor="end">1</text>
<text x="212" y="4098.75" text-anchor="end">1.5</text>
<text x="212" y="3937.5" text-anchor="end">2</text>
<text x="212" y="3776.25" text-anchor="end">2.5</text>
<text x="212" y="3615" text-anchor="end">3</text>
<text x="212" y="3453.75" text-anchor="end">3.5</text>
<text x="212" y="3292.5" text-anchor="end">4</text>
</g>
<text font-size="66.4" x="1051.25" y="4722.3" text-anchor="middle">Principal components values</text>
<text font-size="66.4" transform="translate(107 3919) rotate(-90)" text-anchor="middle">Normalized values</text>
<text font-size="57.6" x="276.2" y="3358" letter-spacing="1.5">(c)</text>
<rect x="1339.2" y="3329.2" width="151.5" height="54" fill="#6666ff" stroke="#000" stroke-width="2.4"/>
<path d="M1338 3428.2h152.5" stroke="#ff0000" stroke-width="7.6" fill="none"/>
<text font-size="60.4" x="1500.5" y="3376.5">Histogram</text>
<text font-size="60.4" x="1500.5" y="3449.5">Gaussian fit</text>
</g>
</svg>
</body>
</html>
